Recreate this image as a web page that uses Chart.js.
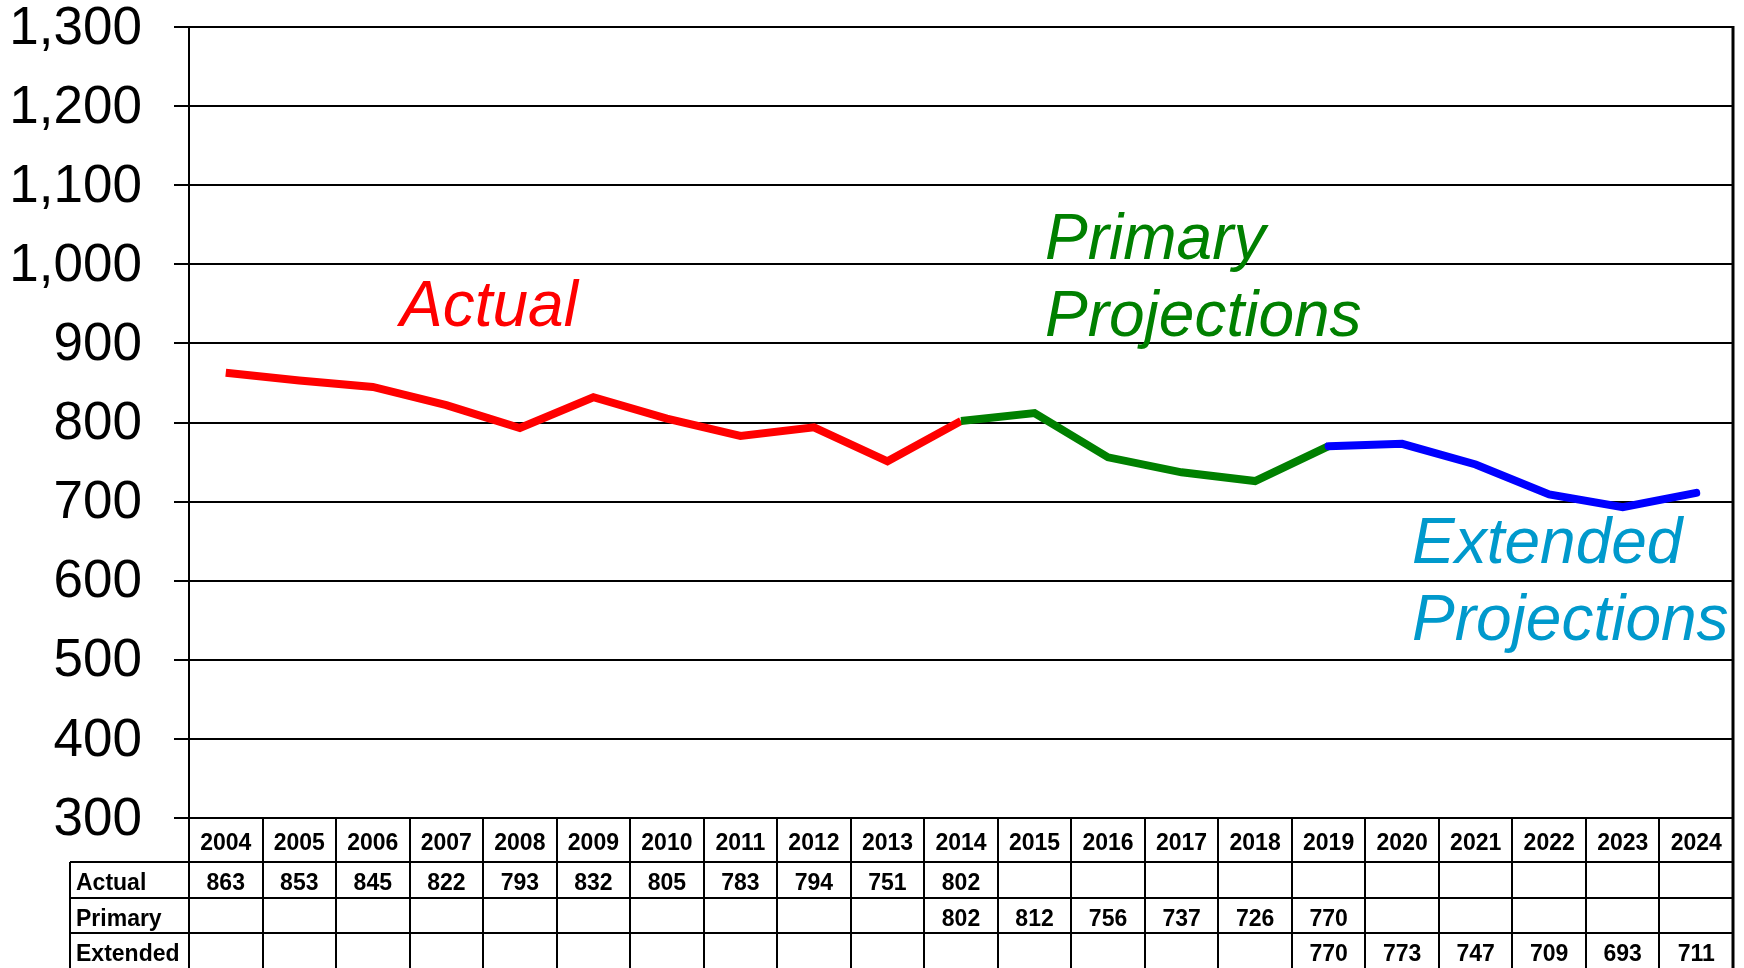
<!DOCTYPE html>
<html>
<head>
<meta charset="utf-8">
<script src="https://cdn.jsdelivr.net/npm/chart.js@4.4.1/dist/chart.umd.min.js"></script>
<style>
html,body{margin:0;padding:0;background:#fff;}
#wrap{width:1744px;height:968px;position:relative;}
</style>
</head>
<body>
<div id="wrap"><canvas id="c" width="1744" height="968"></canvas></div>
<script>
const years = ['2004','2005','2006','2007','2008','2009','2010','2011','2012','2013','2014','2015','2016','2017','2018','2019','2020','2021','2022','2023','2024'];
const actual   = [863,853,845,822,793,832,805,783,794,751,802,null,null,null,null,null,null,null,null,null,null];
const primary  = [null,null,null,null,null,null,null,null,null,null,802,812,756,737,726,770,null,null,null,null,null];
const extended = [null,null,null,null,null,null,null,null,null,null,null,null,null,null,null,770,773,747,709,693,711];
const rowLabels = ['Actual','Primary','Extended'];
const yTicks = [300,400,500,600,700,800,900,1000,1100,1200,1300];

const FONT = "'Liberation Sans', Arial, Helvetica, sans-serif";

const tablePlugin = {
  id: 'tablePlugin',
  afterDraw(chart) {
    const ctx = chart.ctx;
    const xs = chart.scales.x;
    const ca = chart.chartArea;
    const colW = (ca.right - ca.left) / years.length;
    const rowTop = [ca.bottom, 862, 898, 933];
    const rowBot = 968;
    const labelLeft = 70;
    ctx.save();
    ctx.strokeStyle = '#000';
    ctx.lineWidth = 2;
    for (let i = 0; i <= years.length; i++) {
      const x = Math.round(ca.left + i * colW);
      ctx.beginPath(); ctx.moveTo(x, ca.bottom); ctx.lineTo(x, rowBot); ctx.stroke();
    }
    ctx.beginPath(); ctx.moveTo(labelLeft, rowTop[1]); ctx.lineTo(labelLeft, rowBot); ctx.stroke();
    for (let r = 1; r < rowTop.length; r++) {
      ctx.beginPath(); ctx.moveTo(labelLeft, rowTop[r]); ctx.lineTo(ca.right, rowTop[r]); ctx.stroke();
    }
    ctx.lineWidth = 3;
    ctx.beginPath(); ctx.moveTo(ca.right, ca.top - 1); ctx.lineTo(ca.right, rowBot); ctx.stroke();

    ctx.fillStyle = '#000';
    ctx.font = 'bold 23px ' + FONT;
    ctx.textBaseline = 'middle';
    ctx.textAlign = 'center';
    years.forEach((y, i) => {
      ctx.fillText(y, xs.getPixelForValue(i), (rowTop[0] + rowTop[1]) / 2 + 4);
    });
    const series = [actual, primary, extended];
    series.forEach((arr, r) => {
      const yc = (rowTop[r + 1] + (rowTop[r + 2] || 968)) / 2 + 4;
      arr.forEach((v, i) => {
        if (v !== null) ctx.fillText(String(v), xs.getPixelForValue(i), yc);
      });
    });
    ctx.textAlign = 'left';
    rowLabels.forEach((lab, r) => {
      const yc = (rowTop[r + 1] + (rowTop[r + 2] || 968)) / 2 + 4;
      ctx.fillText(lab, 76, yc);
    });

    ctx.font = 'italic 64px ' + FONT;
    ctx.textBaseline = 'alphabetic';
    ctx.textAlign = 'left';
    ctx.fillStyle = '#FF0000';
    ctx.fillText('Actual', 400, 326);
    ctx.fillStyle = '#008000';
    ctx.fillText('Primary', 1045, 259);
    ctx.fillText('Projections', 1045, 336);
    ctx.fillStyle = '#0099CC';
    ctx.fillText('Extended', 1412, 563);
    ctx.fillText('Projections', 1412, 640);
    ctx.restore();
  }
};

new Chart(document.getElementById('c'), {
  type: 'line',
  data: {
    labels: years,
    datasets: [
      { label: 'Actual', data: actual, borderColor: '#FF0000', borderWidth: 8, pointRadius: 0, tension: 0, order: 3, borderJoinStyle: 'miter' },
      { label: 'Primary', data: primary, borderColor: '#008000', borderWidth: 8, pointRadius: 0, tension: 0, order: 2, borderJoinStyle: 'miter' },
      { label: 'Extended', data: extended, borderColor: '#0000FF', borderWidth: 8, pointRadius: 0, tension: 0, order: 1, borderJoinStyle: 'miter', borderCapStyle: 'round' }
    ]
  },
  options: {
    responsive: false,
    animation: false,
    spanGaps: false,
    layout: { padding: { top: 27, bottom: 150, right: 11, left: 0 } },
    plugins: { legend: { display: false }, tooltip: { enabled: false } },
    scales: {
      x: { type: 'category', offset: true, display: false },
      y: {
        min: 300, max: 1300,
        afterFit(scale) { scale.width = 189; scale.paddingTop = 0; scale.paddingBottom = 0; },
        afterBuildTicks(scale) { scale.ticks = yTicks.map(v => ({ value: v })); },
        ticks: {
          color: '#000',
          padding: 32,
          labelOffset: 2,
          font: { family: FONT, size: 53, lineHeight: 1 },
          callback: (v) => v.toLocaleString('en-US')
        },
        grid: { color: '#000', lineWidth: 2, tickLength: 15, tickColor: '#000', drawTicks: true },
        border: { color: '#000', width: 2 }
      }
    }
  },
  plugins: [tablePlugin]
});
</script>
</body>
</html>
